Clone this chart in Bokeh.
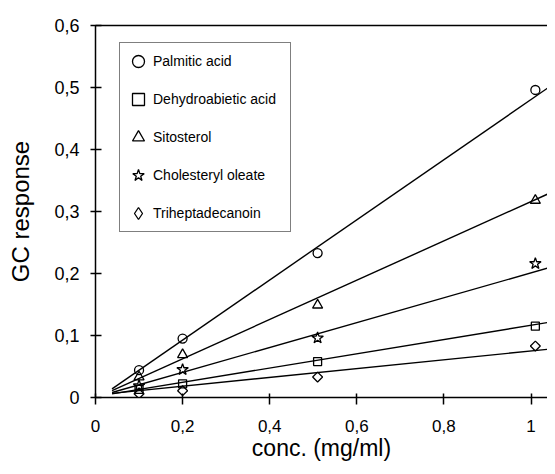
import numpy as np
from bokeh.plotting import figure
from bokeh.models import Range1d, FixedTicker, LinearAxis, Legend, LegendItem
from bokeh.embed import file_html
from bokeh.resources import INLINE

# ---- data ----
conc = [0.1, 0.2, 0.51, 1.01]
palmitic = [0.044, 0.095, 0.233, 0.496]
dehydroabietic = [0.013, 0.022, 0.058, 0.115]
sitosterol = [0.033, 0.069, 0.149, 0.318]
cholesteryl = [0.019, 0.045, 0.096, 0.216]
triheptadecanoin = [0.006, 0.011, 0.033, 0.083]

series_names = ["Palmitic acid", "Dehydroabietic acid", "Sitosterol",
                "Cholesteryl oleate", "Triheptadecanoin"]

# regression lines (slope, intercept)
fit_range = [0.038, 1.045]
fit_slope = [0.485, 0.115, 0.317, 0.2005, 0.071]
fit_intercept = [-0.0044, 0.0015, -0.001, 0.0005, 0.004]

x_ticks = [0, 0.2, 0.4, 0.6, 0.8, 1.0]
x_tick_labels = ["0", "0,2", "0,4", "0,6", "0,8", "1"]
y_ticks = [0, 0.1, 0.2, 0.3, 0.4, 0.5, 0.6]
y_tick_labels = ["0", "0,1", "0,2", "0,3", "0,4", "0,5", "0,6"]

FONT = "Liberation Sans"

p = figure(width=547, height=466, output_backend="svg", toolbar_location=None,
           x_range=Range1d(0, 452 / 435.5), y_range=Range1d(0, 0.6),
           min_border_left=95, min_border_right=0, min_border_top=25,
           min_border_bottom=69, x_axis_location=None, y_axis_location=None)
p.grid.visible = False
p.outline_line_color = None
p.background_fill_color = "white"
p.border_fill_color = "white"
# range used only so the legend's diamond sample has a renderer off the frame
p.extra_y_ranges = {"legend_only": Range1d(10, 11)}

# axes
xa = LinearAxis(ticker=FixedTicker(ticks=x_ticks),
                major_label_overrides={t: l for t, l in zip(x_ticks, x_tick_labels)},
                axis_label="conc. (mg/ml)")
ya = LinearAxis(ticker=FixedTicker(ticks=y_ticks),
                major_label_overrides={t: l for t, l in zip(y_ticks, y_tick_labels)},
                axis_label="GC response")
for ax in (xa, ya):
    ax.axis_line_width = 1.5
    ax.axis_line_color = "black"
    ax.major_tick_line_width = 1.5
    ax.major_tick_line_color = "black"
    ax.minor_tick_line_color = None
    ax.major_label_text_font = FONT
    ax.major_label_text_color = "black"
    ax.axis_label_text_font = FONT
    ax.axis_label_text_font_style = "normal"
    ax.axis_label_text_color = "black"
xa.major_label_text_font_size = "17px"
xa.axis_label_text_font_size = "23px"
xa.major_tick_in = 4
xa.major_tick_out = 7
xa.major_label_standoff = 15
xa.axis_label_standoff = 0
ya.major_label_text_font_size = "18px"
ya.axis_label_text_font_size = "24px"
ya.major_tick_in = 6
ya.major_tick_out = 5
ya.major_label_standoff = 11
ya.axis_label_standoff = 17
p.add_layout(xa, "below")
p.add_layout(ya, "left")

top = LinearAxis(ticker=FixedTicker(ticks=[]), major_tick_in=0, major_tick_out=0,
                 minor_tick_line_color=None, major_label_text_font_size="0px",
                 major_label_standoff=0, axis_line_width=1.5, axis_line_color="black")
p.add_layout(top, "above")

# regression lines
fx = np.array(fit_range)
for s, b in zip(fit_slope, fit_intercept):
    p.line(fx, s * fx + b, line_color="black", line_width=1.4)

# markers
mk = dict(fill_color=None, line_color="black", line_width=1.3)
r_pal = p.scatter(conc, palmitic, marker="circle", size=9, **mk)
r_deh = p.scatter(conc, dehydroabietic, marker="square", size=8, **mk)
r_sit = p.scatter(conc, sitosterol, marker="triangle", size=10, **mk)
r_cho = p.scatter(conc, cholesteryl, marker="star", size=12, **mk)
r_tri = p.scatter(conc, triheptadecanoin, marker="square", size=7, angle=np.pi / 4, **mk)
# diamond sample for the legend (mapped to the off-frame range, so not visible)
r_tri_leg = p.scatter(conc, triheptadecanoin, marker="diamond", size=10,
                      y_range_name="legend_only", **mk)

legend = Legend(items=[LegendItem(label=n, renderers=[r]) for n, r in
                       zip(series_names, [r_pal, r_deh, r_sit, r_cho, r_tri_leg])],
                location=(24, 165), orientation="vertical",
                glyph_width=30, glyph_height=30, label_height=20, spacing=8,
                padding=3, label_standoff=0, label_width=134,
                label_text_font=FONT, label_text_font_size="14px",
                label_text_color="black",
                border_line_color="black", border_line_width=1.5,
                background_fill_color="white", background_fill_alpha=1.0)
p.add_layout(legend, "center")

open("out.html", "w").write(file_html(p, INLINE))
